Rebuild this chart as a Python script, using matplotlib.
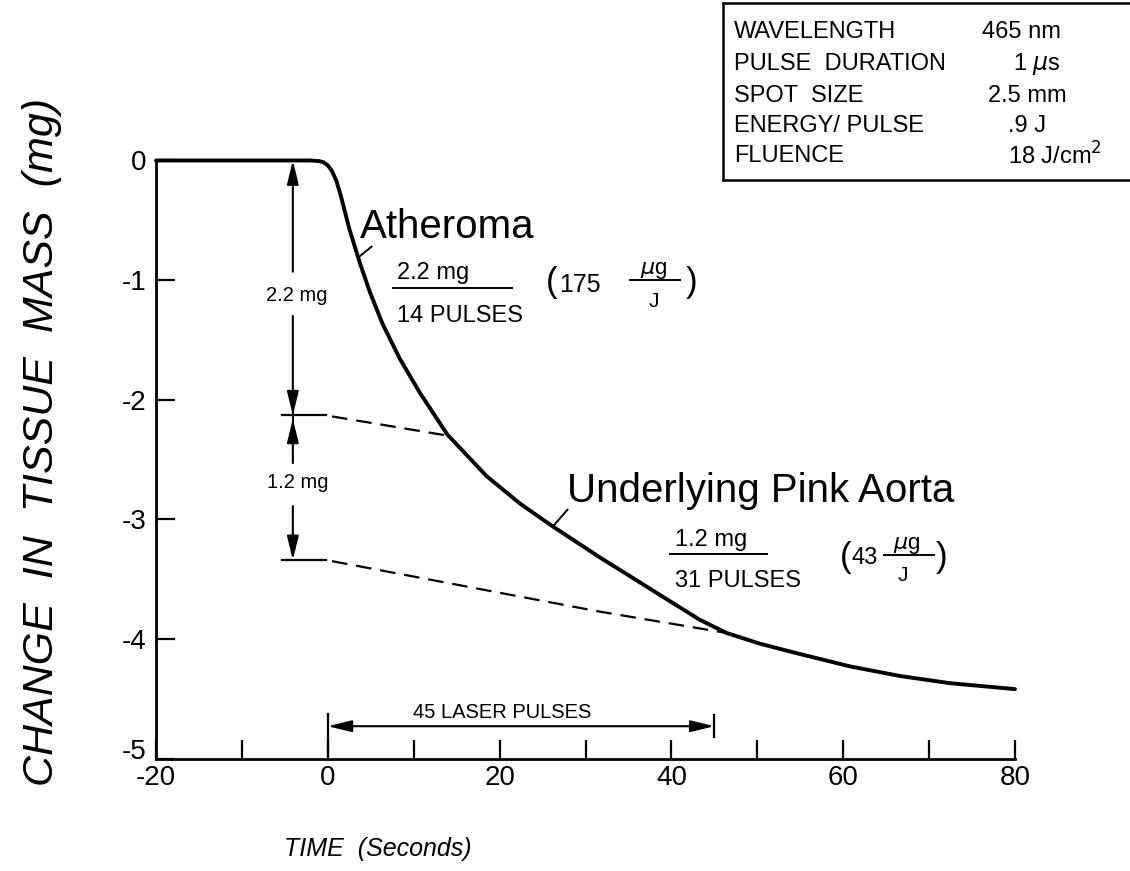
import matplotlib
matplotlib.use("Agg")
import matplotlib.pyplot as plt
from matplotlib.lines import Line2D
from matplotlib.transforms import ScaledTranslation

plt.rcParams['font.family'] = ['Liberation Sans', 'DejaVu Sans']
plt.rcParams['axes.unicode_minus'] = False

# ---- data ----
time_s = [-20, -2, -1, -0.5, 0, 0.5, 1.0, 1.5, 2.5, 3.7, 4.9, 6.4, 8.4, 10.7, 13.9,
          18.5, 22.4, 26.2, 31.7, 35.5, 39.5, 43.3, 46.4, 50.3, 54.6, 60.8, 66.6, 72.4, 80.0]
mass_mg = [0, 0, -0.005, -0.015, -0.04, -0.09, -0.17, -0.29, -0.57, -0.85, -1.10, -1.37, -1.66,
           -1.94, -2.29, -2.64, -2.87, -3.06, -3.32, -3.49, -3.67, -3.84, -3.95, -4.04, -4.12,
           -4.23, -4.31, -4.37, -4.42]

# dashed extrapolation lines
upper_dash_t = [0.5, 6.4, 13.9]
upper_dash_m = [-2.14, -2.21, -2.30]
lower_dash_t = [0.5, 31.5, 46.4]
lower_dash_m = [-3.35, -3.77, -3.95]

xticks_major = [-20, 0, 20, 40, 60, 80]
xticks_minor = [-10, 10, 30, 50, 70]
yticks = [0, -1, -2, -3, -4, -5]
ytick_labels = ['0', '-1', '-2', '-3', '-4', '-5']

atheroma_loss = 2.2
aorta_loss = 1.2
level_atheroma = -2.13
level_aorta = -3.34
pulses_total = 45

params_names = ['WAVELENGTH', 'PULSE  DURATION', 'SPOT  SIZE', 'ENERGY/ PULSE', 'FLUENCE']
params_values = ['465 nm', '1 $\\mu$s', '2.5 mm', '.9 J', '18 J/cm$^2$']

W, H = 1130, 871
fig = plt.figure(figsize=(W / 100, H / 100), dpi=100)
ax = fig.add_axes([156 / W, (H - 758.5) / H, (1015 - 156) / W, (758.5 - 160.5) / H])
ax.set_xlim(-20, 80)
ax.set_ylim(-5, 0)
for s in ['top', 'right']:
    ax.spines[s].set_visible(False)
for s in ['left', 'bottom']:
    ax.spines[s].set_linewidth(2.0)

ax.set_xticks(xticks_major)
ax.set_xticklabels([str(v) for v in xticks_major])
ax.set_xticks(xticks_minor, minor=True)
ax.set_yticks(yticks)
ax.set_yticklabels(ytick_labels)
ax.tick_params(axis='both', which='both', direction='in', length=14, width=1.6,
               labelsize=20)
ax.tick_params(axis='y', pad=7)
ax.tick_params(axis='x', pad=5)
# the "-5" label sits a little above the corner in the reference
lab = ax.get_yticklabels()[-1]
lab.set_transform(lab.get_transform() + ScaledTranslation(0, 7 / 72, fig.dpi_scale_trans))

# main curve
ax.plot(time_s, mass_mg, color='k', lw=2.8, solid_capstyle='round', solid_joinstyle='round',
        clip_on=False, zorder=5)

# dashed extrapolations
ax.plot(upper_dash_t, upper_dash_m, color='k', lw=1.6, dashes=(7, 4), clip_on=False)
ax.plot(lower_dash_t, lower_dash_m, color='k', lw=1.6, dashes=(7, 4), clip_on=False)

# horizontal level markers
ax.plot([-5.3, -0.2], [level_atheroma, level_atheroma], color='k', lw=1.6)
ax.plot([-5.3, -0.2], [level_aorta, level_aorta], color='k', lw=1.6)

# vertical dimension arrows
ax_x = -4.07
astyle = dict(arrowstyle='-|>,head_length=0.9,head_width=0.22', color='k', lw=1.5,
              shrinkA=0, shrinkB=0, mutation_scale=16)
ax.annotate('', xy=(ax_x, 0), xytext=(ax_x, -0.93), arrowprops=astyle, annotation_clip=False)
ax.annotate('', xy=(ax_x, level_atheroma), xytext=(ax_x, -1.30), arrowprops=astyle)
ax.annotate('', xy=(ax_x, level_atheroma - 0.03), xytext=(ax_x, -2.53), arrowprops=astyle)
ax.annotate('', xy=(ax_x, level_aorta), xytext=(ax_x, -2.89), arrowprops=astyle)
ax.plot([ax_x, ax_x], [level_atheroma + 0.06, level_atheroma - 0.06], color='k', lw=1.5)

ax.text(-3.6, -1.13, f'{atheroma_loss} mg', fontsize=14.5, ha='center', va='center')
ax.text(-3.5, -2.69, f'{aorta_loss} mg', fontsize=14.5, ha='center', va='center')

# 45 laser pulses arrow
ya = -4.73
ax.annotate('', xy=(pulses_total, ya), xytext=(0, ya),
            arrowprops=dict(arrowstyle='<|-|>,head_length=0.9,head_width=0.22', color='k',
                            lw=1.5, shrinkA=0, shrinkB=0, mutation_scale=16))
ax.plot([0, 0], [-5, ya + 0.1], color='k', lw=1.6)
ax.plot([pulses_total, pulses_total], [ya + 0.09, ya - 0.09], color='k', lw=1.6)
ax.text(20.3, -4.66, f'{pulses_total} LASER PULSES', fontsize=14.5, ha='center', va='baseline')

# Atheroma annotation
ax.plot([3.73, 5.1], [-0.80, -0.72], color='k', lw=1.4)
ax.text(3.7, -0.648, 'Atheroma', fontsize=29, ha='left', va='baseline')
ax.text(8.0, -0.99, f'{atheroma_loss} mg', fontsize=17, ha='left', va='baseline')
ax.plot([7.6, 21.4], [-1.07, -1.07], color='k', lw=1.4)
ax.text(8.0, -1.35, '14 PULSES', fontsize=17, ha='left', va='baseline')
ax.text(26.1, -1.02, '(', fontsize=25, ha='center', va='center')
ax.text(26.9, -1.10, '175', fontsize=18, ha='left', va='baseline')
ax.text(37.9, -0.95, '$\\mu$g', fontsize=16, ha='center', va='baseline')
ax.plot([35.2, 41.0], [-1.0, -1.0], color='k', lw=1.4)
ax.text(37.9, -1.18, 'J', fontsize=15, ha='center', va='center')
ax.text(42.4, -1.02, ')', fontsize=25, ha='center', va='center')

# Underlying pink aorta annotation
ax.plot([26.2, 27.9], [-3.06, -2.92], color='k', lw=1.4)
ax.text(27.8, -2.855, 'Underlying Pink Aorta', fontsize=29, ha='left', va='baseline')
ax.text(40.4, -3.22, f'{aorta_loss} mg', fontsize=17, ha='left', va='baseline')
ax.plot([39.8, 51.1], [-3.29, -3.29], color='k', lw=1.4)
ax.text(40.4, -3.565, '31 PULSES', fontsize=17, ha='left', va='baseline')
ax.text(60.3, -3.32, '(', fontsize=25, ha='center', va='center')
ax.text(61.0, -3.37, '43', fontsize=17, ha='left', va='baseline')
ax.text(67.4, -3.25, '$\\mu$g', fontsize=16, ha='center', va='baseline')
ax.plot([64.8, 70.6], [-3.30, -3.30], color='k', lw=1.4)
ax.text(67.0, -3.47, 'J', fontsize=15, ha='center', va='center')
ax.text(71.5, -3.32, ')', fontsize=25, ha='center', va='center')

# axis labels
fig.text(42 / W, 1 - 442 / H, 'CHANGE  IN  TISSUE  MASS  (mg)', rotation=90, fontsize=31,
         style='italic', ha='center', va='center')
fig.text(378 / W, 1 - 849 / H, 'TIME  (Seconds)', fontsize=18, style='italic',
         ha='center', va='center')

# parameter box
bx0, by0, by1 = 723, 3, 180
for (x0, y0, x1, y1) in [(bx0, by0, W + 5, by0), (bx0, by1, W + 5, by1), (bx0, by0, bx0, by1)]:
    fig.add_artist(Line2D([x0 / W, x1 / W], [1 - y0 / H, 1 - y1 / H], color='k', lw=1.8,
                          transform=fig.transFigure))
row_y = [32, 64, 96, 126, 156]
val_x = [982, 1013, 988, 1008, 1008]
for name, val, ry, vx in zip(params_names, params_values, row_y, val_x):
    fig.text(734 / W, 1 - ry / H, name, fontsize=17, ha='left', va='center')
    fig.text(vx / W, 1 - ry / H, val, fontsize=17, ha='left', va='center')

fig.savefig('out.png', dpi=100, facecolor='white')
